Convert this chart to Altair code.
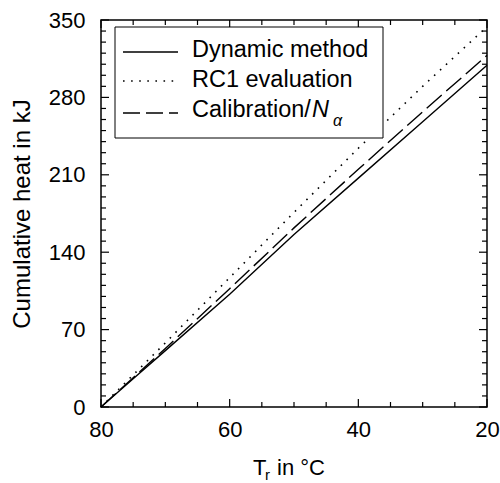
import altair as alt
import pandas as pd

# ---- data ----
temps = [80, 75, 70, 60, 50, 40, 30, 20]
dynamic = [0, 25.5, 51, 102, 156, 207, 258, 309]
rc1 = [0, 29, 58, 117, 176, 234, 290, 344]
calib = [0, 26.5, 53, 107, 162, 215, 267, 318]

x_major = [80, 60, 40, 20]
x_minor = [75, 70, 65, 55, 50, 45, 35, 30, 25]
y_major = [0, 70, 140, 210, 280, 350]
y_minor = [10, 20, 30, 40, 50, 60, 80, 90, 100, 110, 120, 130, 150, 160, 170,
           180, 190, 200, 220, 230, 240, 250, 260, 270, 290, 300, 310, 320,
           330, 340]

legend_labels = ["Dynamic method", "RC1 evaluation", "Calibration/"]

FONT = "Liberation Sans"
W, H = 386, 387

xs = alt.Scale(domain=[20, 80], reverse=True, nice=False, zero=False)
ys = alt.Scale(domain=[0, 350], nice=False, zero=False)

df = pd.DataFrame({"T": temps, "dyn": dynamic, "rc1": rc1, "cal": calib})

base = alt.Chart(df)

x_axis = alt.Axis(values=x_major, title=None, ticks=False, domain=False, grid=False,
                  labelFont=FONT, labelFontSize=22, labelColor="black",
                  labelPadding=12, labelFlush=False, labelOverlap=False)
y_axis = alt.Axis(values=y_major, title="Cumulative heat in kJ", ticks=False,
                  domain=False, grid=False, labelFont=FONT, labelFontSize=22,
                  labelColor="black", labelPadding=16, labelFlush=False,
                  labelOverlap=False, titleFont=FONT, titleFontSize=24,
                  titleFontWeight="normal", titleColor="black", titlePadding=14)

solid = base.mark_line(color="black", strokeWidth=1.4).encode(
    x=alt.X("T:Q", scale=xs, axis=x_axis),
    y=alt.Y("dyn:Q", scale=ys, axis=y_axis),
)
dotted = base.mark_line(color="black", strokeWidth=1.6, strokeDash=[1.6, 6.5]).encode(
    x=alt.X("T:Q", scale=xs, axis=x_axis),
    y=alt.Y("rc1:Q", scale=ys, axis=y_axis),
)
dashed = base.mark_line(color="black", strokeWidth=1.4, strokeDash=[20, 6]).encode(
    x=alt.X("T:Q", scale=xs, axis=x_axis),
    y=alt.Y("cal:Q", scale=ys, axis=y_axis),
)


def xticks(vals, length):
    d = alt.Chart(pd.DataFrame({"T": vals})).mark_rule(color="black", strokeWidth=1.2)
    bottom = d.encode(x=alt.X("T:Q", scale=xs, axis=x_axis), y=alt.value(H), y2=alt.value(H - length))
    top = d.encode(x=alt.X("T:Q", scale=xs, axis=x_axis), y=alt.value(0), y2=alt.value(length))
    return [bottom, top]


def yticks(vals, length):
    d = alt.Chart(pd.DataFrame({"dyn": vals})).mark_rule(color="black", strokeWidth=1.2)
    left = d.encode(y=alt.Y("dyn:Q", scale=ys, axis=y_axis), x=alt.value(0), x2=alt.value(length))
    right = d.encode(y=alt.Y("dyn:Q", scale=ys, axis=y_axis), x=alt.value(W), x2=alt.value(W - length))
    return [left, right]


ticks = xticks(x_major, 8) + xticks(x_minor, 5) + yticks(y_major, 8) + yticks(y_minor, 5)

one = pd.DataFrame({"a": [0]})

# legend box
leg_box = alt.Chart(one).mark_rect(fill="white", stroke="black", strokeWidth=1).encode(
    x=alt.value(14), x2=alt.value(282), y=alt.value(7), y2=alt.value(118))
leg_solid = alt.Chart(one).mark_rule(color="black", strokeWidth=1.4).encode(
    x=alt.value(22), x2=alt.value(77), y=alt.value(32))
leg_dot = alt.Chart(one).mark_rule(color="black", strokeWidth=1.6, strokeDash=[1.6, 6.5]).encode(
    x=alt.value(22), x2=alt.value(77), y=alt.value(61))
leg_dash = alt.Chart(one).mark_rule(color="black", strokeWidth=1.4, strokeDash=[17, 6]).encode(
    x=alt.value(22), x2=alt.value(77), y=alt.value(93))

leg_text = []
for i, yy in enumerate([37, 67, 97]):
    leg_text.append(
        alt.Chart(pd.DataFrame({"lab": [legend_labels[i]]})).mark_text(
            font=FONT, fontSize=23.5, align="left", baseline="alphabetic", color="black"
        ).encode(text="lab:N", x=alt.value(91), y=alt.value(yy))
    )
leg_N = alt.Chart(pd.DataFrame({"lab": ["N"]})).mark_text(
    font=FONT, fontSize=23.5, fontStyle="italic", align="left", baseline="alphabetic",
    color="black").encode(text="lab:N", x=alt.value(211), y=alt.value(97))
leg_alpha = alt.Chart(pd.DataFrame({"lab": ["α"]})).mark_text(
    font=FONT, fontSize=16, fontStyle="italic", align="left", baseline="alphabetic",
    color="black").encode(text="lab:N", x=alt.value(232), y=alt.value(106))

# x-axis title with subscript
xt_T = alt.Chart(pd.DataFrame({"lab": ["T"]})).mark_text(
    font=FONT, fontSize=22, align="left", baseline="alphabetic", color="black").encode(
    text="lab:N", x=alt.value(152), y=alt.value(455))
xt_r = alt.Chart(pd.DataFrame({"lab": ["r"]})).mark_text(
    font=FONT, fontSize=15, align="left", baseline="alphabetic", color="black").encode(
    text="lab:N", x=alt.value(164), y=alt.value(460))
xt_rest = alt.Chart(pd.DataFrame({"lab": ["in °C"]})).mark_text(
    font=FONT, fontSize=22, align="left", baseline="alphabetic", color="black").encode(
    text="lab:N", x=alt.value(176), y=alt.value(455))

chart = alt.layer(
    solid, dotted, dashed, *ticks,
    leg_box, leg_solid, leg_dot, leg_dash, *leg_text, leg_N, leg_alpha,
    xt_T, xt_r, xt_rest,
).properties(
    width=W, height=H,
    autosize=alt.AutoSizeParams(type="none"),
    padding={"left": 101, "top": 20, "right": 13, "bottom": 76},
    background="white",
).configure_view(stroke="black", strokeWidth=1.5)

chart.save("out.html", embed_options={"renderer": "svg", "actions": False})
